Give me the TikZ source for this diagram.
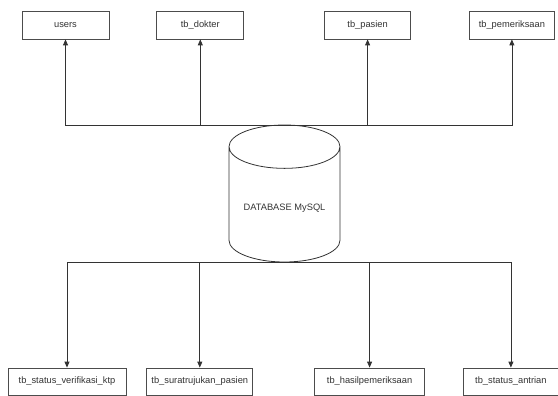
\documentclass[tikz,border=0pt]{standalone}
\usepackage{fontspec}
\setmainfont{Liberation Sans}
\usepackage{tikz}
\usetikzlibrary{shapes.geometric, arrows.meta}
\usetikzlibrary{positioning}
\tikzstyle{tabel} = [rectangle, minimum height=28pt, text centered, draw=black!70, line width=0.8pt, fill=white, font=\fontsize{9.3}{11}\selectfont, text=black!80]
\tikzstyle{arrow} = [draw=black!80, line width=0.8pt, -{Triangle[width=5pt,length=6pt]}]
\tikzstyle{dbNode} = [
                cylinder,
                shape border rotate=90,
                aspect=0.49,
                minimum width=111pt,
                minimum height=137pt,
                outer sep=0pt,
                draw=black!80,
                line width=0.8pt,
                font=\fontsize{9.3}{11}\selectfont,
                text=black!80
            ]

\begin{document}
\begin{tikzpicture}[x=1pt, y=-1pt]
                            \useasboundingbox (0,0) rectangle (558,396);
                            \node (db) [dbNode, anchor=shape center] at (284.5,193.5) {DATABASE MySQL};
                            \node (users) [tabel, minimum width=87pt] at (65.5,25) {users};
                            \node (dokter) [tabel, minimum width=87pt, right=47pt of users] {tb\_dokter};
                            \node (pasien) [tabel, minimum width=86pt, right=80pt of dokter] {tb\_pasien};
                            \node (periksa) [tabel, minimum width=85pt, right=58pt of pasien] {tb\_pemeriksaan};
                            \node (ktp) [tabel, minimum width=118pt, minimum height=27pt] at (67,381.5) {tb\_status\_verifikasi\_ktp};
                            \node (rujukan) [tabel, minimum width=106pt, minimum height=27pt, right=20pt of ktp] {tb\_suratrujukan\_pasien};
                            \node (hasil) [tabel, minimum width=110pt, minimum height=27pt, right=61pt of rujukan] {tb\_hasilpemeriksaan};
                            \node (antrian) [tabel, minimum width=95pt, minimum height=27pt, right=38pt of hasil] {tb\_status\_antrian};
                            \draw [arrow] (db.north) -| (users);
                            \draw [arrow] (db.north) -| (dokter);
                            \draw [arrow] (db.north) -| (pasien);
                            \draw [arrow] (db.north) -| (periksa);
                            \draw [arrow] (db.south) -| (ktp);
                            \draw [arrow] (db.south) -| (rujukan);
                            \draw [arrow] (db.south) -| (hasil);
                            \draw [arrow] (db.south) -| (antrian);
                        \end{tikzpicture}
\end{document}
